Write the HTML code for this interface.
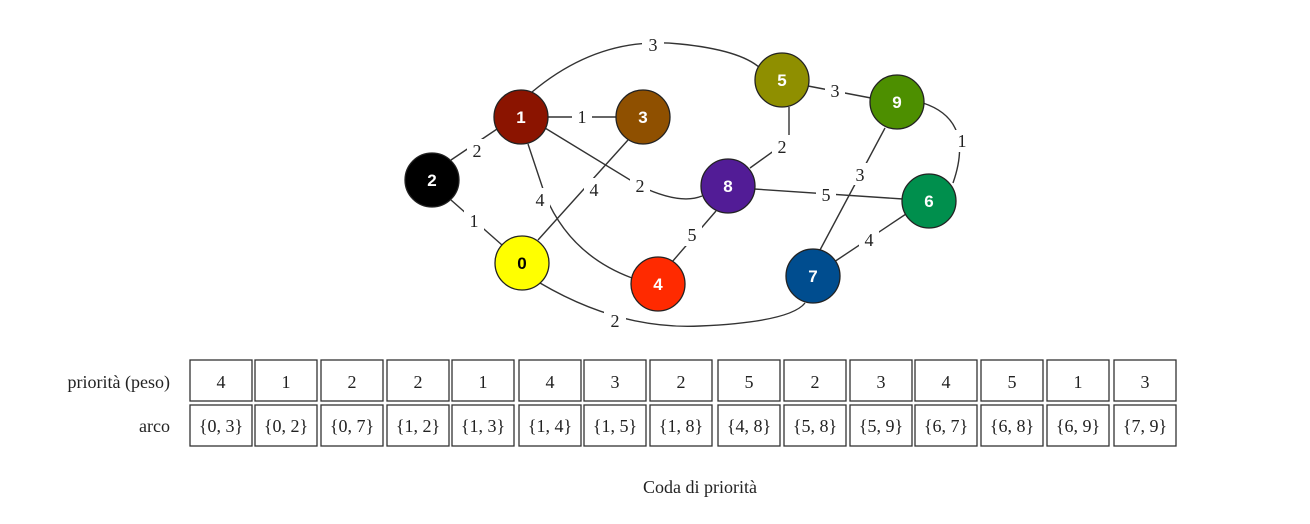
<!DOCTYPE html>
<html><head><meta charset="utf-8"><style>
body{margin:0;background:#fff;width:1310px;height:519px;overflow:hidden}
</style></head><body>
<svg width="1310" height="519" viewBox="0 0 1310 519" xmlns="http://www.w3.org/2000/svg">
<g fill="none" stroke="#333" stroke-width="1.4">
<path d="M532,92 Q600,35 680,44 Q740,50 760,68"/>
<path d="M540,283 Q620,330 700,326 Q790,322 805,303"/>
<path d="M528,144 L545,195 Q570,255 632,278"/>
<path d="M545,128 L640,186 Q680,205 702,196"/>
<path d="M789,107 L789,140 L750,168"/>
<path d="M885,128 L820,250"/>
<path d="M754,189 L903,199"/>
<path d="M923,103 Q975,120 953,183"/>
<path d="M834,262 L906,214"/>
<path d="M538,240 L628,140"/>
<path d="M672,262 L716,211"/>
<path d="M451,160 L500,127"/>
<path d="M451,200 L502,245"/>
<path d="M548,117 L616,117"/>
<path d="M808,86 L871,98"/>
</g>
<g font-family="Liberation Serif, serif" font-size="18" fill="#222" text-anchor="middle">
<g fill="#fff" stroke="none">
<rect x="642" y="33" width="22" height="22"/><rect x="604" y="310" width="22" height="22"/>
<rect x="530" y="188" width="20" height="22"/><rect x="630" y="175" width="20" height="22"/>
<rect x="772" y="135" width="20" height="22"/><rect x="850" y="163" width="20" height="22"/>
<rect x="816" y="183" width="20" height="22"/><rect x="952" y="130" width="20" height="22"/>
<rect x="859" y="229" width="20" height="22"/><rect x="584" y="178" width="20" height="22"/>
<rect x="682" y="224" width="20" height="22"/><rect x="467" y="139" width="20" height="22"/>
<rect x="464" y="210" width="20" height="22"/><rect x="572" y="106" width="20" height="22"/>
<rect x="825" y="80" width="20" height="22"/>
</g>
<text x="653" y="51">3</text><text x="615" y="327">2</text>
<text x="540" y="206">4</text><text x="640" y="192">2</text>
<text x="782" y="153">2</text><text x="860" y="181">3</text>
<text x="826" y="201">5</text><text x="962" y="147">1</text>
<text x="869" y="246">4</text><text x="594" y="196">4</text>
<text x="692" y="241">5</text><text x="477" y="157">2</text>
<text x="474" y="227">1</text><text x="582" y="123">1</text>
<text x="835" y="97">3</text>
</g>
<g stroke="#222" stroke-width="1.3" font-family="Liberation Sans, sans-serif" font-size="17" font-weight="bold" text-anchor="middle">
<circle cx="432" cy="180" r="27" fill="#000"/>
<circle cx="521" cy="117" r="27" fill="#8b1400"/>
<circle cx="643" cy="117" r="27" fill="#8f5000"/>
<circle cx="522" cy="263" r="27" fill="#ffff00"/>
<circle cx="658" cy="284" r="27" fill="#ff2a00"/>
<circle cx="728" cy="186" r="27" fill="#521c96"/>
<circle cx="782" cy="80" r="27" fill="#8f8f00"/>
<circle cx="897" cy="102" r="27" fill="#4d8f00"/>
<circle cx="929" cy="201" r="27" fill="#008f4d"/>
<circle cx="813" cy="276" r="27" fill="#004d8f"/>
<g stroke="none" fill="#fff">
<text x="432" y="186">2</text><text x="521" y="123">1</text><text x="643" y="123">3</text>
<text x="522" y="269" fill="#000">0</text><text x="658" y="290">4</text><text x="728" y="192">8</text>
<text x="782" y="86">5</text><text x="897" y="108">9</text><text x="929" y="207">6</text><text x="813" y="282">7</text>
</g>
</g>
<g font-family="Liberation Serif, serif" font-size="18" fill="#222">
<text x="170" y="388" text-anchor="end">priorità (peso)</text>
<text x="170" y="432" text-anchor="end">arco</text>
<text x="700" y="493" text-anchor="middle">Coda di priorità</text>
</g>
<g id="cells" font-family="Liberation Serif, serif" font-size="18" fill="#222" text-anchor="middle"></g>
</svg>
<script>
var xs=[190,255,321,387,452,519,584,650,718,784,850,915,981,1047,1114];
var p=[4,1,2,2,1,4,3,2,5,2,3,4,5,1,3];
var a=["{0, 3}","{0, 2}","{0, 7}","{1, 2}","{1, 3}","{1, 4}","{1, 5}","{1, 8}","{4, 8}","{5, 8}","{5, 9}","{6, 7}","{6, 8}","{6, 9}","{7, 9}"];
var g=document.getElementById('cells'),h='';
for(var i=0;i<15;i++){var x=xs[i];
h+='<rect x="'+x+'" y="360" width="62" height="41" fill="none" stroke="#333" stroke-width="1.3"/>';
h+='<rect x="'+x+'" y="405" width="62" height="41" fill="none" stroke="#333" stroke-width="1.3"/>';
h+='<text x="'+(x+31)+'" y="388">'+p[i]+'</text>';
h+='<text x="'+(x+31)+'" y="432">'+a[i]+'</text>';}
g.innerHTML=h;
</script>
</body></html>
